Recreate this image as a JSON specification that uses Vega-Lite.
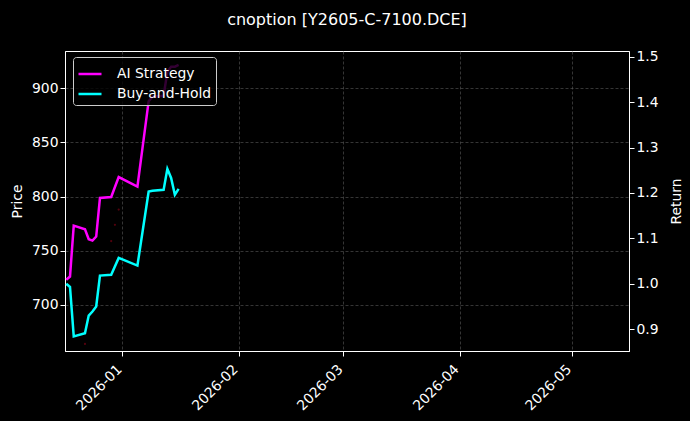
{
  "$schema": "https://vega.github.io/schema/vega-lite/v6.json",
  "autosize": {"type": "none"},
  "width": 564,
  "height": 300,
  "padding": {"left": 65, "top": 51, "right": 61, "bottom": 70},
  "background": "#000000",
  "title": {
    "text": "cnoption [Y2605-C-7100.DCE]",
    "fontSize": 16,
    "font": "DejaVu Sans",
    "fontWeight": "normal",
    "color": "#ffffff",
    "anchor": "middle",
    "offset": 22
  },
  "datasets": {
    "curves": [
      {"date": "2025-12-17", "series": "AI Strategy", "value": 1.009},
      {"date": "2025-12-18", "series": "AI Strategy", "value": 1.016},
      {"date": "2025-12-19", "series": "AI Strategy", "value": 1.128},
      {"date": "2025-12-22", "series": "AI Strategy", "value": 1.120},
      {"date": "2025-12-23", "series": "AI Strategy", "value": 1.098},
      {"date": "2025-12-24", "series": "AI Strategy", "value": 1.095},
      {"date": "2025-12-25", "series": "AI Strategy", "value": 1.104},
      {"date": "2025-12-26", "series": "AI Strategy", "value": 1.189},
      {"date": "2025-12-29", "series": "AI Strategy", "value": 1.191},
      {"date": "2025-12-31", "series": "AI Strategy", "value": 1.235},
      {"date": "2026-01-05", "series": "AI Strategy", "value": 1.214},
      {"date": "2026-01-08", "series": "AI Strategy", "value": 1.402},
      {"date": "2026-01-09", "series": "AI Strategy", "value": 1.412},
      {"date": "2026-01-12", "series": "AI Strategy", "value": 1.414},
      {"date": "2026-01-13", "series": "AI Strategy", "value": 1.467},
      {"date": "2026-01-14", "series": "AI Strategy", "value": 1.478},
      {"date": "2026-01-15", "series": "AI Strategy", "value": 1.478},
      {"date": "2026-01-16", "series": "AI Strategy", "value": 1.482},
      {"date": "2025-12-17", "series": "Buy-and-Hold", "value": 1.0},
      {"date": "2025-12-18", "series": "Buy-and-Hold", "value": 0.993},
      {"date": "2025-12-19", "series": "Buy-and-Hold", "value": 0.884},
      {"date": "2025-12-22", "series": "Buy-and-Hold", "value": 0.891},
      {"date": "2025-12-23", "series": "Buy-and-Hold", "value": 0.930},
      {"date": "2025-12-24", "series": "Buy-and-Hold", "value": 0.939},
      {"date": "2025-12-25", "series": "Buy-and-Hold", "value": 0.950},
      {"date": "2025-12-26", "series": "Buy-and-Hold", "value": 1.018},
      {"date": "2025-12-29", "series": "Buy-and-Hold", "value": 1.020},
      {"date": "2025-12-31", "series": "Buy-and-Hold", "value": 1.057},
      {"date": "2026-01-05", "series": "Buy-and-Hold", "value": 1.040},
      {"date": "2026-01-08", "series": "Buy-and-Hold", "value": 1.203},
      {"date": "2026-01-09", "series": "Buy-and-Hold", "value": 1.205},
      {"date": "2026-01-12", "series": "Buy-and-Hold", "value": 1.207},
      {"date": "2026-01-13", "series": "Buy-and-Hold", "value": 1.253},
      {"date": "2026-01-14", "series": "Buy-and-Hold", "value": 1.233},
      {"date": "2026-01-15", "series": "Buy-and-Hold", "value": 1.196},
      {"date": "2026-01-16", "series": "Buy-and-Hold", "value": 1.209}
    ],
    "trades": [
      {"date": "2025-12-22", "price": 664},
      {"date": "2025-12-29", "price": 759},
      {"date": "2025-12-30", "price": 774},
      {"date": "2025-12-31", "price": 788}
    ]
  },
  "encoding": {
    "x": {
      "field": "date",
      "type": "temporal",
      "title": null,
      "scale": {
        "type": "utc",
        "domain": [
          {"year": 2025, "month": 12, "date": 16, "hours": 16, "utc": true},
          {"year": 2026, "month": 5, "date": 16, "hours": 6, "utc": true}
        ]
      },
      "axis": {
        "labelExpr": "utcFormat(datum.value, '%Y-%m')",
        "tickCount": {"interval": "month", "step": 1},
        "labelAngle": -45,
        "labelAlign": "right",
        "labelBaseline": "top",
        "labelPadding": 6,
        "labelOffset": -8
      }
    }
  },
  "layer": [
    {
      "data": {"name": "trades"},
      "mark": {"type": "point", "filled": true, "size": 5, "color": "#6a0010", "opacity": 0.8},
      "encoding": {
        "y": {
          "field": "price",
          "type": "quantitative",
          "title": "Price",
          "scale": {"domain": [657.5, 934.4], "nice": false, "zero": false},
          "axis": {"orient": "left", "values": [700, 750, 800, 850, 900], "titlePadding": 7}
        }
      }
    },
    {
      "data": {"name": "curves"},
      "mark": {"type": "line", "strokeWidth": 2.5},
      "encoding": {
        "y": {
          "field": "value",
          "type": "quantitative",
          "title": "Return",
          "scale": {"domain": [0.852, 1.5125], "nice": false, "zero": false},
          "axis": {
            "orient": "right",
            "values": [0.9, 1.0, 1.1, 1.2, 1.3, 1.4, 1.5],
            "format": ".1f",
            "titleAngle": -90,
            "titlePadding": 25
          }
        },
        "color": {
          "field": "series",
          "type": "nominal",
          "scale": {"domain": ["AI Strategy", "Buy-and-Hold"], "range": ["#ff00ff", "#00ffff"]},
          "legend": {
            "title": null,
            "orient": "none",
            "legendX": 8,
            "legendY": 6,
            "symbolType": "stroke",
            "symbolSize": 529,
            "symbolStrokeWidth": 2.5,
            "labelOffset": 14,
            "labelFontSize": 13.9,
            "labelFont": "DejaVu Sans",
            "labelColor": "#ffffff",
            "rowPadding": 0,
            "padding": 4,
            "fillColor": "rgba(0,0,0,0.8)",
            "strokeColor": "#cccccc",
            "cornerRadius": 3
          }
        }
      }
    }
  ],
  "resolve": {"scale": {"y": "independent"}},
  "config": {
    "view": {"stroke": "#ffffff", "strokeWidth": 1},
    "axis": {
      "labelFont": "DejaVu Sans",
      "titleFont": "DejaVu Sans",
      "labelFontSize": 13.9,
      "titleFontSize": 13.9,
      "titleFontWeight": "normal",
      "labelColor": "#ffffff",
      "titleColor": "#ffffff",
      "domainColor": "#ffffff",
      "tickColor": "#ffffff",
      "tickSize": 5,
      "gridColor": "#606060",
      "gridDash": [3, 2],
      "gridWidth": 0.8,
      "gridOpacity": 0.7
    }
  }
}
